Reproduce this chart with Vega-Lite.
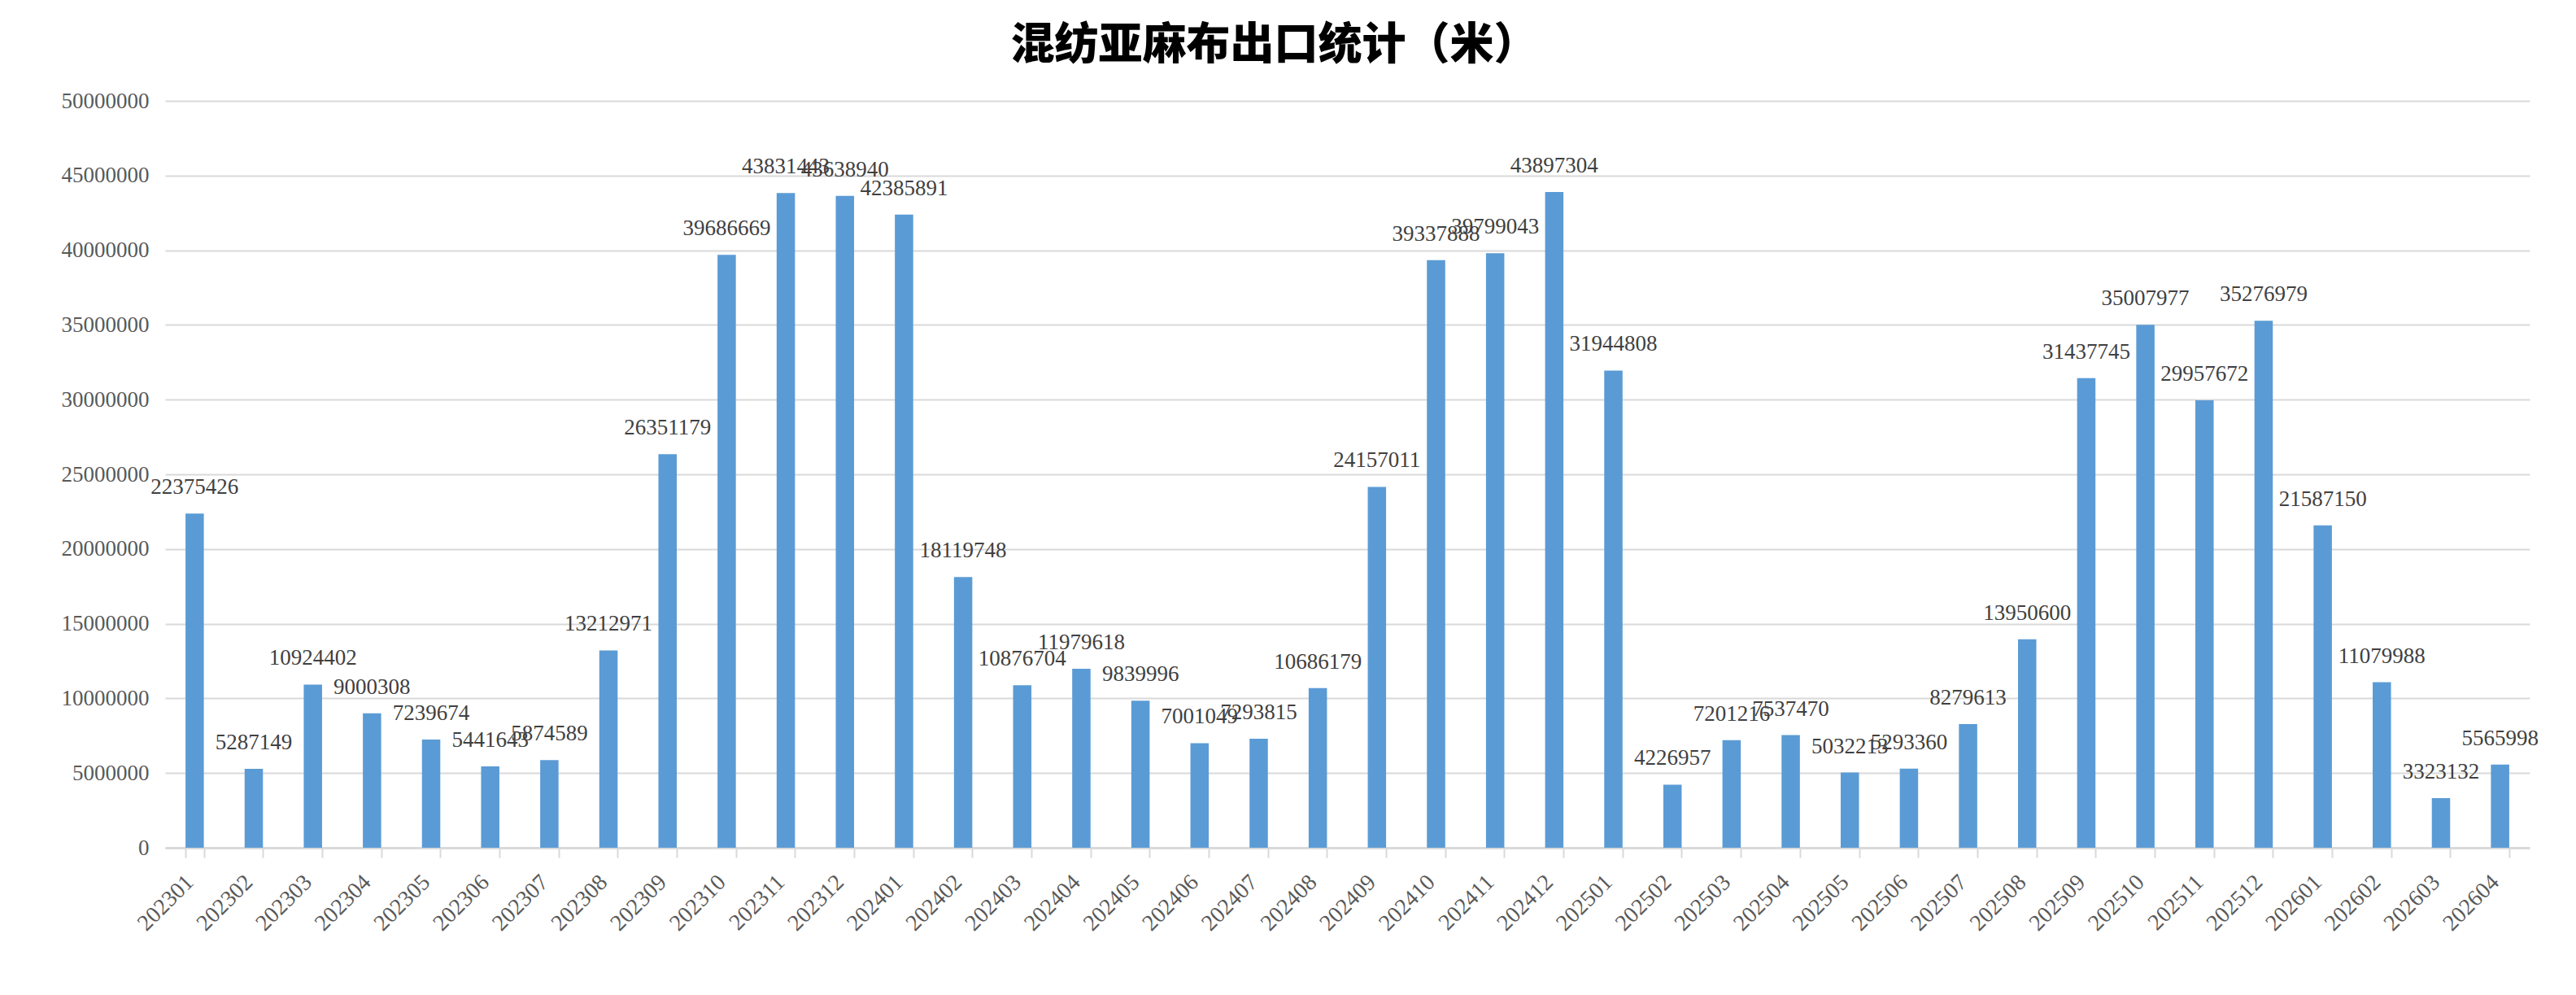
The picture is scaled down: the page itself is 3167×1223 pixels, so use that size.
{
  "$schema": "https://vega.github.io/schema/vega-lite/v6.json",
  "width": 2907,
  "height": 918,
  "autosize": {"type": "none"},
  "padding": {"left": 203, "top": 124, "right": 57, "bottom": 181},
  "background": "white",
  "title": {
    "text": "混纺亚麻布出口统计（米）",
    "font": "Noto Sans CJK SC",
    "fontSize": 54,
    "fontWeight": 900,
    "color": "#000000",
    "anchor": "middle",
    "dx": -90,
    "offset": 26
  },
  "data": {
    "values": [
      {"month": "202301", "value": 22375426},
      {"month": "202302", "value": 5287149},
      {"month": "202303", "value": 10924402},
      {"month": "202304", "value": 9000308},
      {"month": "202305", "value": 7239674},
      {"month": "202306", "value": 5441643},
      {"month": "202307", "value": 5874589},
      {"month": "202308", "value": 13212971},
      {"month": "202309", "value": 26351179},
      {"month": "202310", "value": 39686669},
      {"month": "202311", "value": 43831443},
      {"month": "202312", "value": 43638940},
      {"month": "202401", "value": 42385891},
      {"month": "202402", "value": 18119748},
      {"month": "202403", "value": 10876704},
      {"month": "202404", "value": 11979618},
      {"month": "202405", "value": 9839996},
      {"month": "202406", "value": 7001049},
      {"month": "202407", "value": 7293815},
      {"month": "202408", "value": 10686179},
      {"month": "202409", "value": 24157011},
      {"month": "202410", "value": 39337888},
      {"month": "202411", "value": 39799043},
      {"month": "202412", "value": 43897304},
      {"month": "202501", "value": 31944808},
      {"month": "202502", "value": 4226957},
      {"month": "202503", "value": 7201216},
      {"month": "202504", "value": 7537470},
      {"month": "202505", "value": 5032213},
      {"month": "202506", "value": 5293360},
      {"month": "202507", "value": 8279613},
      {"month": "202508", "value": 13950600},
      {"month": "202509", "value": 31437745},
      {"month": "202510", "value": 35007977},
      {"month": "202511", "value": 29957672},
      {"month": "202512", "value": 35276979},
      {"month": "202601", "value": 21587150},
      {"month": "202602", "value": 11079988},
      {"month": "202603", "value": 3323132},
      {"month": "202604", "value": 5565998}
    ]
  },
  "encoding": {
    "x": {
      "field": "month",
      "type": "nominal",
      "sort": null,
      "scale": {"paddingInner": 0.69, "paddingOuter": 0.345},
      "axis": {
        "title": null,
        "labelAngle": -45,
        "labelAlign": "right",
        "labelBaseline": "middle",
        "labelFont": "Liberation Serif",
        "labelFontSize": 28,
        "labelColor": "#595959",
        "labelPadding": 26,
        "labelOffset": -6,
        "tickBand": "extent",
        "tickColor": "#d9d9d9",
        "tickWidth": 2,
        "tickSize": 12,
        "domainColor": "#d9d9d9",
        "domainWidth": 3,
        "grid": false
      }
    },
    "y": {
      "field": "value",
      "type": "quantitative",
      "scale": {"domain": [0, 50000000], "nice": false},
      "axis": {
        "title": null,
        "values": [0, 5000000, 10000000, 15000000, 20000000, 25000000, 30000000, 35000000, 40000000, 45000000, 50000000],
        "format": "d",
        "labelFont": "Liberation Serif",
        "labelFontSize": 27,
        "labelColor": "#595959",
        "labelPadding": 20,
        "ticks": false,
        "domain": false,
        "grid": true,
        "gridColor": "#d9d9d9",
        "gridWidth": 2
      }
    }
  },
  "layer": [
    {"mark": {"type": "bar", "color": "#5b9bd5"}},
    {
      "mark": {
        "type": "text",
        "font": "Liberation Serif",
        "fontSize": 27,
        "color": "#404040",
        "baseline": "bottom",
        "dy": -18
      },
      "encoding": {"text": {"field": "value", "type": "quantitative", "format": "d"}}
    }
  ],
  "config": {"view": {"stroke": null}}
}
